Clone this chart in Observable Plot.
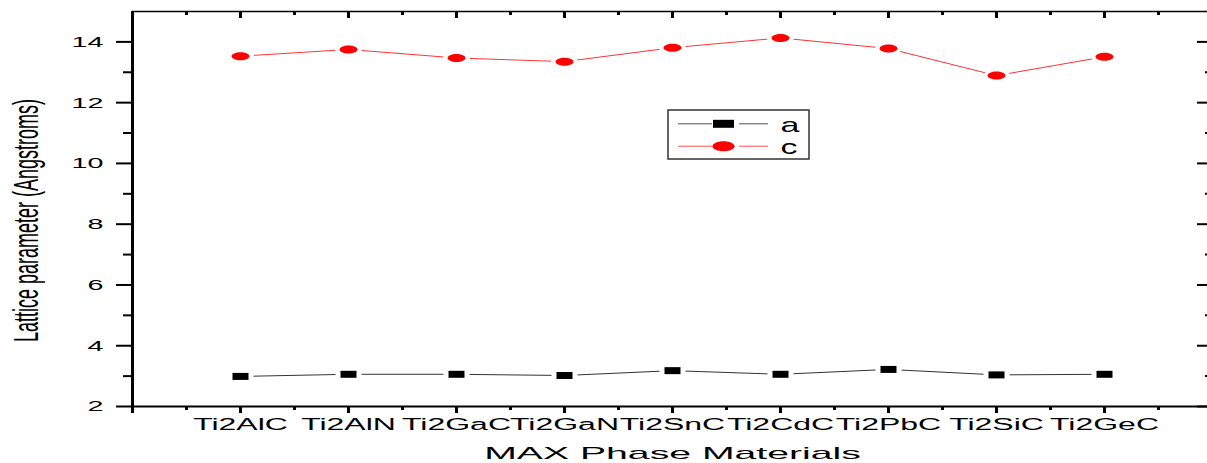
<!DOCTYPE html>
<html><head><meta charset="utf-8">
<script src="https://cdn.jsdelivr.net/npm/d3@7"></script>
<script src="https://cdn.jsdelivr.net/npm/@observablehq/plot@0.6"></script>
<style>
html,body{margin:0;padding:0;background:#fff;overflow:hidden;}
#chart{width:1207px;height:463px;overflow:hidden;}
</style></head><body><div id="chart"></div>
<script>
// ---- data ----
const categories = ["Ti2AlC","Ti2AlN","Ti2GaC","Ti2GaN","Ti2SnC","Ti2CdC","Ti2PbC","Ti2SiC","Ti2GeC"];
const aValues = [2.99, 3.06, 3.06, 3.02, 3.18, 3.06, 3.22, 3.04, 3.06];
const cValues = [13.53, 13.75, 13.47, 13.35, 13.81, 14.13, 13.78, 12.89, 13.51];
const seriesNames = ["a", "c"];
const yTicks = [2, 4, 6, 8, 10, 12, 14];
const yTitle = "Lattice parameter (Angstroms)";
const xTitle = "MAX Phase Materials";

// ---- layout ----
const W = 1207, H = 463;
const X0 = 132, X1 = 1212, Y0 = 406, Y1 = 11;
const invX = px => (px - X0) / (X1 - X0) * 10;
const invY = py => 2 + (Y0 - py) / (Y0 - Y1) * 13;

const aRows = categories.map((cat, i) => ({cat, pos: i + 1, series: "a", value: aValues[i]}));
const cRows = categories.map((cat, i) => ({cat, pos: i + 1, series: "c", value: cValues[i]}));

const xMajor = d3.range(0, 11);
const xMinor = d3.range(0, 10).map(d => d + 0.5);
const yMinor = d3.range(3, 15, 2);

function boxSymbol(w, h) {
  return {draw(ctx) { ctx.moveTo(-w/2, -h/2); ctx.lineTo(w/2, -h/2); ctx.lineTo(w/2, h/2); ctx.lineTo(-w/2, h/2); ctx.closePath(); }};
}
function ellipseSymbol(w, h) {
  const rx = w/2, ry = h/2, k = 0.5523;
  return {draw(ctx) {
    ctx.moveTo(rx, 0);
    ctx.bezierCurveTo(rx, ry*k, rx*k, ry, 0, ry);
    ctx.bezierCurveTo(-rx*k, ry, -rx, ry*k, -rx, 0);
    ctx.bezierCurveTo(-rx, -ry*k, -rx*k, -ry, 0, -ry);
    ctx.bezierCurveTo(rx*k, -ry, rx, -ry*k, rx, 0);
    ctx.closePath();
  }};
}

const legendRows = [
  {series: "a", y: invY(123.3), ty: invY(124.7)},
  {series: "c", y: invY(145.7), ty: invY(147)}
];

const chart = Plot.plot({
  width: W, height: H,
  marginLeft: X0, marginTop: Y1, marginBottom: H - Y0, marginRight: 0,
  style: {fontFamily: "'Liberation Sans', Arial, sans-serif", fontSize: "16px", background: "#fff"},
  x: {domain: [0, 10], range: [X0, X1], ticks: d3.range(1, 10), tickFormat: d => categories[d - 1] ?? "", tickSize: 0, tickPadding: 12, label: null},
  y: {domain: [2, 15], range: [Y0, Y1], ticks: yTicks, tickFormat: d => String(d), tickSize: 0, tickPadding: 29, label: null},
  color: {domain: seriesNames, range: ["#000000", "#ff0000"]},
  marks: [
    // ticks
    Plot.ruleX(xMajor, {x: d => d, y1: 2, y2: 2, insetBottom: -7, stroke: "#000", strokeWidth: 3}),
    Plot.ruleX(xMinor, {x: d => d, y1: 2, y2: 2, insetBottom: -4, stroke: "#000", strokeWidth: 3}),
    Plot.ruleX(xMajor, {x: d => d, y1: 15, y2: 15, insetBottom: -7, stroke: "#000", strokeWidth: 3}),
    Plot.ruleX(xMinor, {x: d => d, y1: 15, y2: 15, insetBottom: -4, stroke: "#000", strokeWidth: 3}),
    Plot.ruleY(yTicks, {y: d => d, x1: 0, x2: 0, insetLeft: -16, stroke: "#000", strokeWidth: 2}),
    Plot.ruleY(yMinor, {y: d => d, x1: 0, x2: 0, insetLeft: -9, stroke: "#000", strokeWidth: 2}),
    Plot.ruleY(yTicks, {y: d => d, x1: 10, x2: 10, insetLeft: -15, stroke: "#000", strokeWidth: 2}),
    Plot.ruleY(yMinor, {y: d => d, x1: 10, x2: 10, insetLeft: -7, stroke: "#000", strokeWidth: 2}),
    // frame
    Plot.ruleY([2], {x1: 0, x2: 10, stroke: "#000", strokeWidth: 2}),
    Plot.ruleY([15], {x1: 0, x2: 10, stroke: "#000", strokeWidth: 1.5}),
    Plot.ruleX([0], {y1: 2, y2: 15, insetBottom: -7, stroke: "#000", strokeWidth: 3}),
    Plot.ruleX([10], {y1: 2, y2: 15, stroke: "#000", strokeWidth: 3}),
    // series
    Plot.line(aRows, {x: "pos", y: "value", stroke: "series", strokeWidth: 1, strokeOpacity: 0.8}),
    Plot.line(cRows, {x: "pos", y: "value", stroke: "series", strokeWidth: 1, strokeOpacity: 0.8}),
    Plot.dot(aRows, {x: "pos", y: "value", symbol: boxSymbol(26, 11), fill: "#fff"}),
    Plot.dot(cRows, {x: "pos", y: "value", symbol: ellipseSymbol(27, 12), fill: "#fff"}),
    Plot.dot(aRows, {x: "pos", y: "value", symbol: boxSymbol(16, 7), fill: "series"}),
    Plot.dot(cRows, {x: "pos", y: "value", symbol: ellipseSymbol(18, 8), fill: "series"}),
    // legend
    Plot.rect([0], {x1: invX(668), x2: invX(809), y1: invY(159), y2: invY(110), fill: "#fff", stroke: "#333", strokeWidth: 1.5}),
    Plot.ruleY(legendRows, {y: "y", x1: invX(678), x2: invX(712), stroke: "series", strokeWidth: 1, strokeOpacity: 0.7}),
    Plot.ruleY(legendRows, {y: "y", x1: invX(739), x2: invX(768), stroke: "series", strokeWidth: 1, strokeOpacity: 0.7}),
    Plot.dot(legendRows.slice(0, 1), {x: invX(723), y: "y", symbol: boxSymbol(21, 8), fill: "series"}),
    Plot.dot(legendRows.slice(1), {x: invX(723), y: "y", symbol: ellipseSymbol(22, 10), fill: "series"}),
    Plot.text(legendRows, {x: invX(780), y: "ty", text: "series", textAnchor: "start", fill: "#000"}),
    // axis titles
    Plot.text([yTitle], {x: invX(26.4), y: invY(220), text: d => d, rotate: -90, fill: "#000"}),
    Plot.text([xTitle], {x: 5, y: invY(452.9), text: d => d, fill: "#000"})
  ]
});

// horizontal stretching of texts, as in the reference picture
function stretch(t, s, fs) {
  t.setAttribute("font-size", fs);
  t.style.fontSize = fs + "px";
  const tr = t.getAttribute("transform") || "";
  const x = +t.getAttribute("x") || 0;
  if (/rotate/.test(tr)) t.setAttribute("transform", tr.replace(/rotate/, `scale(${s},1) rotate`));
  else t.setAttribute("transform", `${tr} translate(${x},0) scale(${s},1) translate(${-x},0)`);
}
chart.querySelectorAll("text").forEach(t => {
  const s = t.textContent.trim();
  if (categories.includes(s)) stretch(t, 2.0, 16);
  else if (/^\d+$/.test(s)) stretch(t, 1.85, 15.5);
  else if (s === xTitle) stretch(t, 2.45, 16);
  else if (s === yTitle) stretch(t, 2.0, 18);
  else if (seriesNames.includes(s)) stretch(t, 1.7, 20);
});
document.getElementById("chart").appendChild(chart);
</script>
</body></html>
